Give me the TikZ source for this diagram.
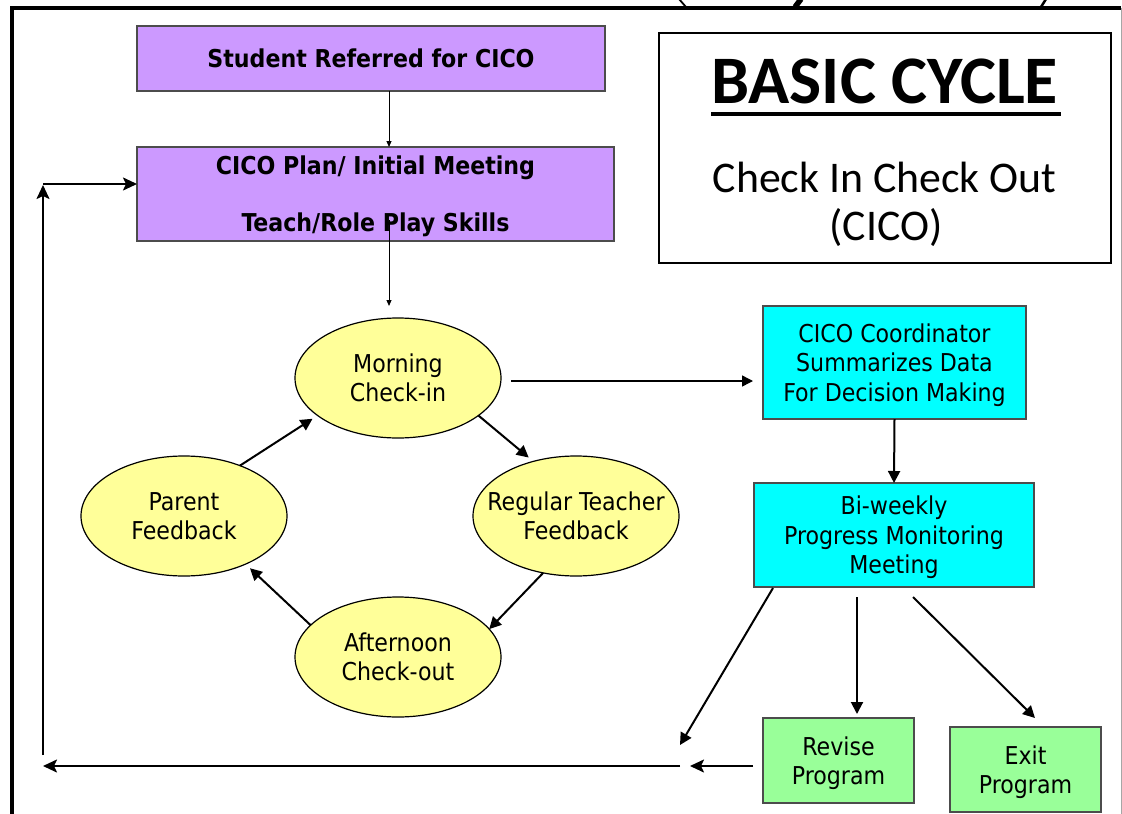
\documentclass[tikz,border=0pt]{standalone}
\usepackage{fontspec}
\newfontfamily\tah{DejaVu Sans Condensed}
\newfontfamily\calfont{Carlito}
\usetikzlibrary{shapes.geometric,arrows.meta,calc}
\definecolor{purp}{HTML}{CC99FF}
\definecolor{yel}{HTML}{FFFF99}
\definecolor{cyn}{HTML}{00FFFF}
\definecolor{grn}{HTML}{99FF99}
\begin{document}
\begin{tikzpicture}[x=1pt,y=-1pt,
 every node/.style={inner sep=0pt, outer sep=0pt},
 txt/.style={font=\tah\fontsize{24.6}{29.5}\selectfont, align=center},
 boldtxt/.style={font=\tah\bfseries\fontsize{24.6}{28.5}\selectfont, align=center},
 pbox/.style={rectangle, draw=black!70, line width=1.5pt, fill=purp, boldtxt, text depth=0pt},
 ell/.style={ellipse, draw=black, line width=1.2pt, fill=yel, minimum width=206pt, minimum height=120pt, inner xsep=-35pt, txt},
 cbox/.style={rectangle, draw=black!70, line width=1.5pt, fill=cyn, txt, text depth=0pt},
 gbox/.style={rectangle, draw=black!70, line width=1.5pt, fill=grn, txt, text depth=0pt},
 thinarr/.style={line width=1pt, -{Triangle[length=6pt,width=5pt]}},
 arr/.style={line width=2pt, -{Triangle[length=12pt,width=12pt]}},
 ret/.style={line width=2pt, -{Stealth[length=14pt,width=13pt,inset=3pt]}}
]
\useasboundingbox (0,0) rectangle (1122,814);
% frame
\draw[line width=4pt] (12,814) -- (12,8) -- (1121,8);
\draw[black!35, line width=1pt] (1121,8) -- (1121,814);
\begin{scope}
\clip (0,0) rectangle (1122,6);
\draw[line width=1.8pt] (679,-1) -- (686,7);
\draw[line width=5.5pt] (801,-1) -- (795,7);
\draw[line width=2.5pt] (1046,-1) -- (1041,7);
\end{scope}

% nodes
\node[pbox, minimum width=468pt, minimum height=65pt] (student) at (371,58.5) {Student Referred for CICO};
\node[pbox, minimum width=477pt, minimum height=94pt] (plan) at (375.5,194) {CICO Plan/ Initial Meeting\\[28.5pt]Teach/Role Play Skills};

\node[draw=black, line width=2.5pt, minimum width=452pt, minimum height=230pt] (titlebox) at (885,148) {};
\node[anchor=base, font=\calfont\bfseries\fontsize{68}{68}\selectfont] (ttl) at (884.5,103) {BASIC CYCLE};
\draw[line width=4pt] ($(ttl.base west)+(0,11)$) -- ($(ttl.base east)+(3,11)$);
\node[anchor=base, font=\calfont\fontsize{43.8}{43.8}\selectfont] (sub1) at (884.5,192) {Check In Check Out};
\node[anchor=base, font=\calfont\fontsize{43.8}{43.8}\selectfont] (sub2) at (886,240) {(CICO)};

\node[ell] (morning) at (398,378) {Morning\\Check-in};
\node[ell] (regular) at (576,516) {Regular Teacher\\Feedback};
\node[ell] (afternoon) at (398,657) {Afternoon\\Check-out};
\node[ell] (parent) at (184,516) {Parent\\Feedback};

\node[cbox, minimum width=263pt, minimum height=113pt] (coord) at (894.5,362.5) {CICO Coordinator\\Summarizes Data\\For Decision Making};
\node[cbox, minimum width=280pt, minimum height=104pt] (bw) at (894,535) {Bi-weekly\\Progress Monitoring\\Meeting};
\node[gbox, minimum width=151pt, minimum height=85pt] (revise) at (838.5,760.5) {Revise\\Program};
\node[gbox, minimum width=151pt, minimum height=85pt] (exit) at (1025.5,769.5) {Exit\\Program};

\coordinate (drop) at (680,745);
\coordinate (j1) at (690,766);
\coordinate (j0) at (680,766);
\coordinate (j2) at (43,766);
\coordinate (j3) at (43,755);
\coordinate (j4) at (43,185);
\coordinate (j5) at (43,184);

% connectors
\draw[thinarr] ($(student.south west)+(252,0)$) -- ($(plan.north west)+(252,0)$);
\draw[thinarr] ($(plan.south west)+(252,-21)$) -- ($(morning.north)+(-9,-12)$);

\draw[arr, shorten >=6pt] (parent.42) -- (morning.205.7);
\draw[arr, shorten >=6pt] (morning.-25.7) -- (regular.128.5);
\draw[arr] (regular.240.4) -- (afternoon.17.9);
\draw[arr, shorten >=6pt] (afternoon.160.5) -- (parent.-38.2);

\draw[line width=1.5pt, -{Triangle[length=11pt,width=11pt]}] ($(morning.east)+(10,3)$) -- ($(morning.east -| coord.west)+(-10,3)$);
\draw[arr] (coord.south) -- (bw.north);
\draw[arr] ($(bw.south west)+(19,1)$) -- (drop);
\draw[arr] ($(bw.south west)+(103,10)$) -- ($(revise.north west)+(94,-4)$);
\draw[arr] ($(bw.south west)+(159,10)$) -- ($(exit.north west)+(85,-9)$);

\draw[ret] ($(revise.west)+(-10,5.5)$) -- (j1);
\draw[ret] (j0) -- (j2);
\draw[ret] (j3) -- (j4);
\draw[ret] (j5) -- ($(plan.west)+(0,-10)$);
\end{tikzpicture}
\end{document}
